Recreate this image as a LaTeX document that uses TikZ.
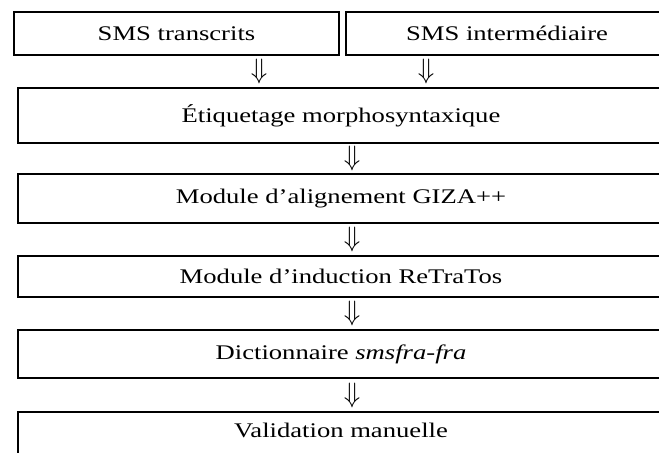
\documentclass[tikz,border=0pt]{standalone}
\usepackage{fontspec}
\setmainfont{Liberation Serif}
\usepackage{graphicx}
\usepackage{tikz}

% text in the reference is stretched sideways
\newcommand{\wide}[1]{\scalebox{1.28}[1]{#1}}
\newcommand{\dn}{\scalebox{1.35}[1.4]{$\Downarrow$}}

\tikzset{
  cadre/.style={draw, line width=0.9pt},
  libelle/.style={inner sep=0pt, font=\fontsize{10.4}{12}\selectfont},
  fleche/.style={inner sep=0pt, font=\fontsize{10}{12}\selectfont}
}

\begin{document}
\begin{tikzpicture}[x=0.5pt, y=-0.5pt]
    \useasboundingbox (0,0) rectangle (659,452);
    % top row
    \draw[cadre] (14,12) rectangle (339,55);
    \draw[cadre] (700,12) -| (346,55) -- (700,55);
    \node[libelle] (transcrits) at (176.5,33.5) {\wide{SMS transcrits}};
    \node[libelle] (inter) at (507,33.5) {\wide{SMS intermédiaire}};
    \node[fleche] (f1) at (259,71.5) {\dn};
    \node[fleche] (f2) at (426,71.5) {\dn};
    % chain of steps, open on the right
    \draw[cadre] (700,88) -| (18,143) -- (700,143);
    \node[libelle] (etiq) at (341,115.5) {\wide{Étiquetage morphosyntaxique}};
    \node[fleche] (f3) at (352,158.5) {\dn};
    \draw[cadre] (700,174) -| (18,223) -- (700,223);
    \node[libelle] (giza) at (341,198.5) {\wide{Module d’alignement GIZA++}};
    \node[fleche] (f4) at (352,239.5) {\dn};
    \draw[cadre] (700,256) -| (18,297) -- (700,297);
    \node[libelle] (retratos) at (341,276.5) {\wide{Module d’induction ReTraTos}};
    \node[fleche] (f5) at (352,313.5) {\dn};
    \draw[cadre] (700,330) -| (18,378) -- (700,378);
    \node[libelle] (dico) at (341,354) {\wide{Dictionnaire \textit{smsfra-fra}}};
    \node[fleche] (f6) at (352,395) {\dn};
    \draw[cadre] (700,412) -| (18,470);
    \node[libelle] (valid) at (341,430) {\wide{Validation manuelle}};
\end{tikzpicture}
\end{document}
